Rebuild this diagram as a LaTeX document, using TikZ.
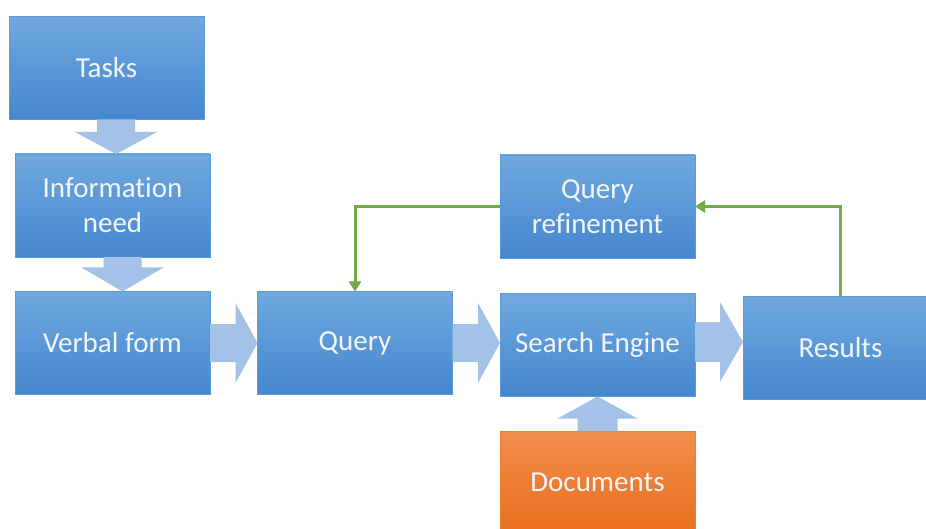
\documentclass[tikz,border=0pt]{standalone}
\usepackage{fontspec}
\setmainfont{Carlito}[Ligatures=NoCommon]
\usetikzlibrary{arrows.meta,calc}
\definecolor{boxtop}{HTML}{70A9DF}
\definecolor{boxbot}{HTML}{4586CE}
\definecolor{boxline}{HTML}{5B9BD5}
\definecolor{orgtop}{HTML}{F28D4C}
\definecolor{orgbot}{HTML}{E86F1D}
\definecolor{orgline}{HTML}{ED7D31}
\definecolor{flowarrow}{HTML}{A4C2E7}
\definecolor{loopgreen}{HTML}{6EAD45}
\definecolor{labeltext}{HTML}{F2F6FC}

\begin{document}
\begin{tikzpicture}[x=1pt,y=-1pt,
  stage/.style={rectangle, minimum width=195pt, minimum height=103pt,
    inner sep=0pt, outer sep=0pt, top color=boxtop, bottom color=boxbot,
    draw=boxline, line width=0.6pt, text=labeltext,
    font=\fontsize{29}{35}\selectfont, align=center},
  source/.style={stage, top color=orgtop, bottom color=orgbot, draw=orgline},
  loopback/.style={draw=loopgreen, line width=3pt,
    -{Triangle[length=10pt,width=12pt]}},
  blockarrow/.style={fill=flowarrow}
]
\useasboundingbox (0,0) rectangle (926,529);
\fill[white] (0,0) rectangle (926,529);
\clip (0,0) rectangle (926,529);

% process stages
\node[stage] (tasks)  at (106.5,68)   {Tasks};
\node[stage] (need)   at (112.5,205.5){Information\\need};
\node[stage] (verbal) at (112.5,343)  {Verbal form};
\node[stage] (query)  at (355,343)    {Query};
\node[stage] (engine) at (597.5,345)  {Search Engine};
\node[stage] (result) at (840.5,348)  {Results};
\node[stage] (refine) at (597.5,206.5){Query\\refinement};
\node[source] (docs)  at (597.5,482.5){Documents};

% downward block arrows
\fill[blockarrow] let \p1=($(tasks.south)+(9.5,0)$), \p2=(need.north) in
  (\x1-19pt,\y1) -- (\x1-19pt,\y2+22pt) -- (\x1-41pt,\y2+22pt) -- (\x1,\y2)
  -- (\x1+41pt,\y2+22pt) -- (\x1+19pt,\y2+22pt) -- (\x1+19pt,\y1) -- cycle;
\fill[blockarrow] let \p1=($(need.south)+(10,0)$), \p2=(verbal.north) in
  (\x1-19pt,\y1) -- (\x1-19pt,\y2+24pt) -- (\x1-41pt,\y2+24pt) -- (\x1,\y2)
  -- (\x1+41pt,\y2+24pt) -- (\x1+19pt,\y2+24pt) -- (\x1+19pt,\y1) -- cycle;

% rightward block arrows
\fill[blockarrow] let \p1=(verbal.east), \p2=(query.west) in
  (\x1,\y1+19pt) -- (\x2-22pt,\y1+19pt) -- (\x2-22pt,\y1+40pt) -- (\x2,\y1)
  -- (\x2-22pt,\y1-40pt) -- (\x2-22pt,\y1-19pt) -- (\x1,\y1-19pt) -- cycle;
\fill[blockarrow] let \p1=(query.east), \p2=(engine.west) in
  (\x1,\y1+19pt) -- (\x2-22pt,\y1+19pt) -- (\x2-22pt,\y1+40pt) -- (\x2,\y1)
  -- (\x2-22pt,\y1-40pt) -- (\x2-22pt,\y1-19pt) -- (\x1,\y1-19pt) -- cycle;
\fill[blockarrow] let \p1=($(engine.east)+(0,-3)$), \p2=(result.west) in
  (\x1,\y1+20pt) -- (\x2-23pt,\y1+20pt) -- (\x2-23pt,\y1+40pt) -- (\x2,\y1)
  -- (\x2-23pt,\y1-40pt) -- (\x2-23pt,\y1-20pt) -- (\x1,\y1-20pt) -- cycle;

% upward block arrow from the document collection
\fill[blockarrow] let \p1=(docs.north), \p2=(engine.south) in
  (\x1-20pt,\y1) -- (\x1-20pt,\y2-22pt) -- (\x1-40pt,\y2-22pt) -- (\x2,\y2)
  -- (\x1+40pt,\y2-22pt) -- (\x1+20pt,\y2-22pt) -- (\x1+20pt,\y1) -- cycle;

% feedback loop
\draw[loopback] (result.north) |- (refine.east);
\draw[loopback] (refine.west) -| (query.north);
\end{tikzpicture}
\end{document}
